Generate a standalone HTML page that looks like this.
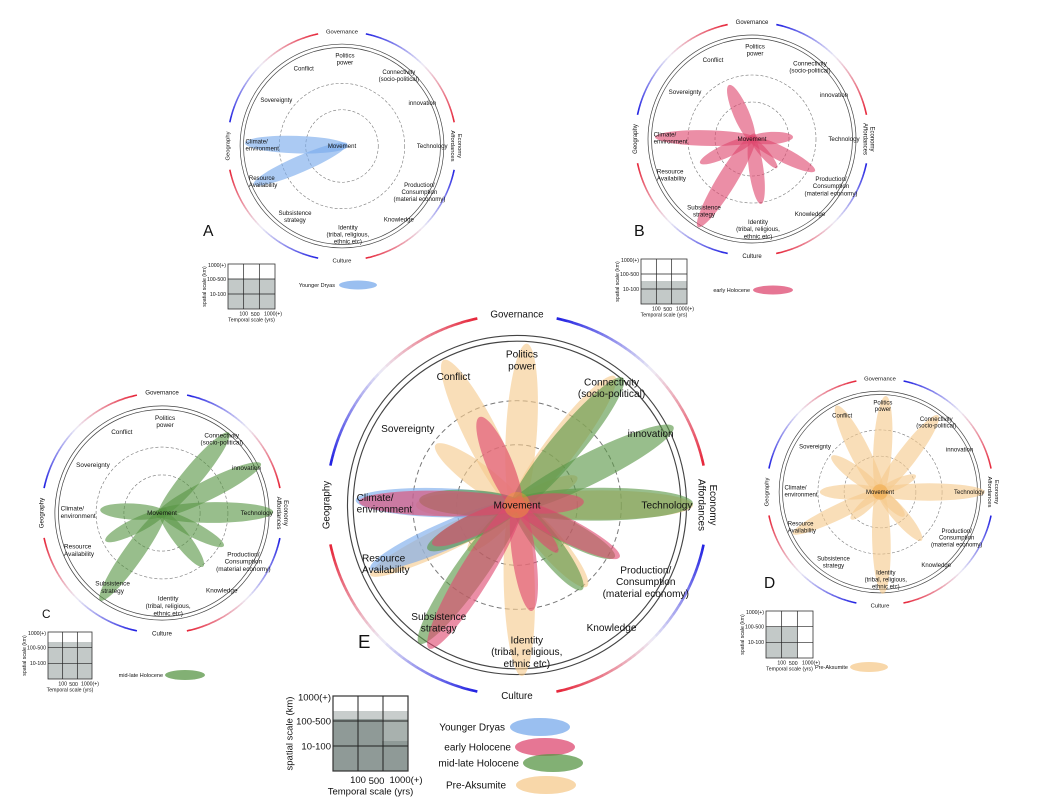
<!DOCTYPE html>
<html><head><meta charset="utf-8">
<style>
html,body{margin:0;padding:0;background:#fff;}
svg{display:block;font-family:"Liberation Sans",Arial,sans-serif;}
</style></head>
<body>
<svg id="s" width="1040" height="804" viewBox="0 0 1040 804" xmlns="http://www.w3.org/2000/svg"></svg>
<script>
const S=document.getElementById('s');let out='';
const COL={blue:'rgb(120,170,235)',red:'rgb(222,72,112)',green:'rgb(88,150,70)',orange:'rgb(245,202,140)'};
const DATA={
blue:[[-99,-3,16],[-90,39,15]],
red:[[-23,-54,14],[-97,-2,14],[41,-2,11],[63,32,13],[25,29,8],[9,65,13],[-54,88,17],[-52,24,12]],
green:[[65,-78,17],[96,-48,17],[108,-1,18],[-60,-3,14],[-55,27,13],[-60,85,17],[40,52,14],[60,32,13]],
orange:[[6,-99,17],[-45,-89,18],[60,-79,17],[-50,-37,14],[37,-17,10],[108,0,16],[-62,0,14],[-90,43,14],[3,105,17],[43,50,14],[-30,28,10],[25,25,10]]
};
const LABELS=[
[3,-89,['Politics','power']],[-39,-79,['Conflict']],[58,-72,['Connectivity','(socio-political)']],
[-67,-47,['Sovereignty']],[82,-44,['innovation']],[-80,-1,['Climate/','environment'],'start'],
[92,0,['Technology']],[-75,36,['Resource','Availability'],'start'],[79,47,['Production/','Consumption','(material economy)']],
[-48,72,['Subsistence','strategy']],[58,75,['Knowledge']],[6,90,['Identity','(tribal, religious,','ethnic etc)']]
];
function lerp(a,b,t){return a.map((v,i)=>Math.round(v+(b[i]-v)*t));}
function col(t){const r=[230,35,55],w=[238,236,246],b=[30,30,225];return 'rgb('+(t<.5?lerp(r,w,t*2):lerp(w,b,(t-.5)*2)).join(',')+')';}
function text(x,y,lines,fs,anchor,extra){
  anchor=anchor||'middle';let h=fs*1.15;let y0=y-(lines.length-1)*h/2+fs*0.35;
  let t='<text x="'+x+'" y="'+y0+'" font-size="'+fs+'" text-anchor="'+anchor+'" fill="#111" '+(extra||'')+'>';
  lines.forEach((l,i)=>{t+='<tspan x="'+x+'" dy="'+(i?h:0)+'">'+l+'</tspan>';});
  return t+'</text>';
}
function panel(cx,cy,s,sets,letter,lx,ly){
  const R=117*s,g=12,sw=1.6*s;
  const segs=[[-90-g,-180+g,0],[-90+g,-g,1],[g,90-g,1],[90+g,180-g,1]];
  segs.forEach(([a0,a1,rev])=>{const n=40;for(let i=0;i<n;i++){
    const b0=(a0+(a1-a0)*i/n)*Math.PI/180,b1=(a0+(a1-a0)*(i+1.05)/n)*Math.PI/180;
    let t=(i+.5)/n; if(rev) t=1-t;
    out+='<path d="M'+(cx+R*Math.cos(b0))+' '+(cy+R*Math.sin(b0))+' A'+R+' '+R+' 0 0 '+(a1>a0?1:0)+' '+(cx+R*Math.cos(b1))+' '+(cy+R*Math.sin(b1))+'" stroke="'+col(t)+'" stroke-width="'+sw+'" fill="none"/>';}});
  const af=6*s;
  out+=text(cx,cy-R,['Governance'],af);
  out+=text(cx,cy+R,['Culture'],af);
  out+=text(cx-R,cy,['Geography'],af,'middle','transform="rotate(-90 '+(cx-R)+' '+cy+')"');
  out+=text(cx+R,cy,['Economy','Affordances'],af,'middle','transform="rotate(90 '+(cx+R)+' '+cy+')"');
  out+='<circle cx="'+cx+'" cy="'+cy+'" r="'+104*s+'" fill="none" stroke="#444" stroke-width="'+0.7*s+'"/>';
  out+='<circle cx="'+cx+'" cy="'+cy+'" r="'+100.5*s+'" fill="none" stroke="#444" stroke-width="'+0.7*s+'"/>';
  [37,64].forEach(r=>out+='<circle cx="'+cx+'" cy="'+cy+'" r="'+r*s+'" fill="none" stroke="#777" stroke-width="'+0.6*s+'" stroke-dasharray="'+3*s+' '+2*s+'"/>');
  sets.forEach(k=>{DATA[k].forEach(([dx,dy,w])=>{
    const L=Math.hypot(dx,dy)*s,a=Math.atan2(dy,dx)*180/Math.PI,st=-0.06*L;
    const mx=(st+L)/2;
    out+='<ellipse cx="'+mx+'" cy="0" rx="'+(L-st)/2+'" ry="'+w*1.12*s/2+'" fill="'+COL[k]+'" fill-opacity="0.62" transform="translate('+cx+' '+cy+') rotate('+a+')"/>';
  });});
  if(sets.includes('orange')) out+='<circle cx="'+cx+'" cy="'+cy+'" r="'+8*s+'" fill="rgb(240,160,50)" fill-opacity="0.45"/>';
  const fs=6.2*s;
  LABELS.forEach(([x,y,l,an])=>{out+=text(cx+x*s-(an?l.reduce((m,q)=>Math.max(m,q.length),0)*fs*0.27:0),cy+y*s,l,fs,an);});
  out+=text(cx,cy,['Movement'],fs);
  out+='<text x="'+lx+'" y="'+ly+'" font-size="'+16*s/ (s>1?1.4:1)+'" fill="#111">'+letter+'</text>';
}
function box(x,y,w,h,fs,shade,lab,labx){
  out+=shade;
  out+='<rect x="'+x+'" y="'+y+'" width="'+w+'" height="'+h+'" fill="none" stroke="#333" stroke-width="'+(fs>7?1.2:0.8)+'"/>';
  [1,2].forEach(i=>{out+='<line x1="'+(x+w*i/3)+'" y1="'+y+'" x2="'+(x+w*i/3)+'" y2="'+(y+h)+'" stroke="#222" stroke-width="'+(fs>7?1:0.7)+'"/>';
    out+='<line x1="'+x+'" y1="'+(y+h*i/3)+'" x2="'+(x+w)+'" y2="'+(y+h*i/3)+'" stroke="#222" stroke-width="'+(fs>7?1:0.7)+'"/>';});
  out+=text(x-2,y+1,['1000(+)'],fs,'end');
  out+=text(x-2,y+h/3,['100-500'],fs,'end');
  out+=text(x-2,y+2*h/3,['10-100'],fs,'end');
  out+=text(x+w/3,y+h+fs*0.9,['100'],fs);
  out+=text(x+w*0.58,y+h+fs*1.0,['500'],fs);
  out+=text(x+w-2,y+h+fs*0.9,['1000(+)'],fs);
  out+=text(x+w/2,y+h+fs*2.1,['Temporal scale (yrs)'],fs);
  const sx=x-fs*4.6,sy=y+h/2;
  out+=text(sx,sy,['spatial scale (km)'],fs,'middle','transform="rotate(-90 '+sx+' '+sy+')"');
}
function g(x,y,w,h,c){return '<rect x="'+x+'" y="'+y+'" width="'+w+'" height="'+h+'" fill="'+c+'"/>';}
const GR='#c3c9c8';
panel(342,146,0.98,['blue'],'A',203,236);
panel(752,139,1.0,['red'],'B',634,236);
panel(162,513,1.03,['green'],'C',42,618);
panel(880,492,0.97,['orange'],'D',764,588);
panel(517,505,1.63,['orange','blue','green','red'],'E',358,648);
box(228,264,47,45,5.2,g(228,279,47,30,GR));
box(641,259,46,45,5.2,g(641,281,46,23,GR));
box(48,632,44,47,5.2,g(48,642,44,37,GR));
box(766,611,47,47,5.2,g(766,627,31,31,GR));
box(333,696,75,75,9.5,g(333,711,75,60,'#c8cdcc')+g(333,719,75,52,'#8f9a97')+g(382,719,26,22,'#a8b1ae'));
function leg(tx,ty,t,ex,ey,rx,ry,c,fs){out+=text(tx,ty,[t],fs,'end');out+='<ellipse cx="'+ex+'" cy="'+ey+'" rx="'+rx+'" ry="'+ry+'" fill="'+COL[c]+'" fill-opacity="0.75"/>';}
leg(335,285,'Younger Dryas',358,285,19,4.5,'blue',5.5);
leg(750,290,'early Holocene',773,290,20,4.5,'red',5.5);
leg(163,675,'mid-late Holocene',185,675,20,5,'green',5.5);
leg(848,667,'Pre-Aksumite',869,667,19,5,'orange',5.5);
leg(505,727,'Younger Dryas',540,727,30,9,'blue',10);
leg(511,747,'early Holocene',545,747,30,9,'red',10);
leg(519,763,'mid-late Holocene',553,763,30,9,'green',10);
leg(506,785,'Pre-Aksumite',546,785,30,9,'orange',10);
S.innerHTML=out;
</script>
</body></html>
